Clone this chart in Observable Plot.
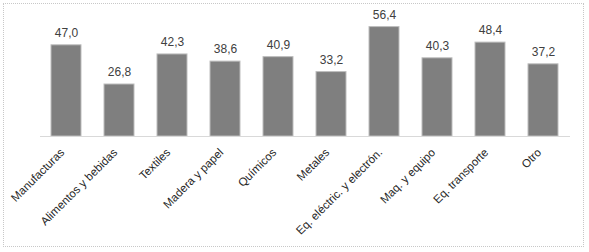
<!DOCTYPE html>
<html><head><meta charset="utf-8">
<script src="https://cdn.jsdelivr.net/npm/d3@7"></script>
<script src="https://cdn.jsdelivr.net/npm/@observablehq/plot@0.6"></script>
<style>
body{margin:0;background:#fff;}
#wrap{position:relative;width:589px;height:252px;}
#border{position:absolute;left:3px;top:3px;width:581px;height:244px;border:1px dotted #c8c8c8;box-sizing:border-box;}
#wrap svg{position:absolute;left:0;top:0;}
</style></head><body><div id="wrap"><div id="border"></div></div>
<script>
const categories = ["Manufacturas","Alimentos y bebidas","Textiles","Madera y papel","Químicos","Metales","Eq. eléctric. y electrón.","Maq. y equipo","Eq. transporte","Otro"];
const values = [47.0, 26.8, 42.3, 38.6, 40.9, 33.2, 56.4, 40.3, 48.4, 37.2];
const valueLabels = ["47,0","26,8","42,3","38,6","40,9","33,2","56,4","40,3","48,4","37,2"];
const data = categories.map((c, i) => ({category: c, value: values[i], label: valueLabels[i]}));

const chart = Plot.plot({
  width: 589, height: 252,
  marginLeft: 40, marginRight: 19, marginTop: 19.6, marginBottom: 116,
  style: {fontFamily: "Liberation Sans", fontSize: "12px", color: "#404040", background: "transparent"},
  x: {domain: categories, paddingInner: 0.43, paddingOuter: 0.215, label: null},
  y: {domain: [0, 60], axis: null},
  marks: [
    Plot.barY(data, {x: "category", y: "value", fill: "#7f7f7f", stroke: "#bdbdbd", strokeWidth: 1}),
    Plot.ruleY([0], {stroke: "#d9d9d9"}),
    Plot.text(data, {x: "category", y: "value", text: "label", dy: -12, fill: "#404040", fontSize: 12}),
    Plot.axisX({tickRotate: -45, tickSize: 0, tickPadding: 8, dx: -4, dy: 6, label: null, fill: "#262626", fontSize: 11.5})
  ]
});
document.getElementById("wrap").appendChild(chart);
</script></body></html>
